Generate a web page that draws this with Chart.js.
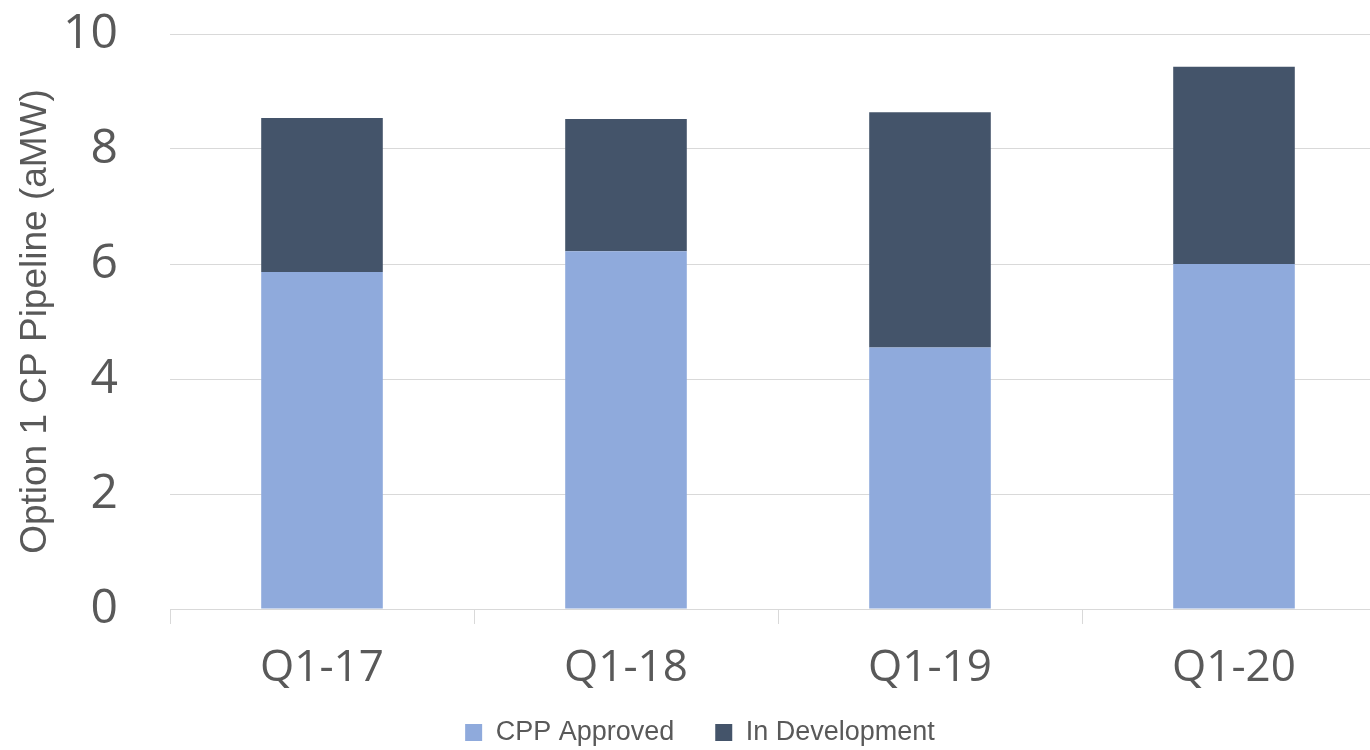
<!DOCTYPE html>
<html><head><meta charset="utf-8">
<script src="https://cdn.jsdelivr.net/npm/chart.js@4"></script>
<style>
html,body{margin:0;padding:0;background:#fff;overflow:hidden;}
#wrap{width:1400px;height:756px;position:relative;}
</style></head>
<body>
<div id="wrap"><canvas id="c"></canvas></div>
<script>
const categories = ["Q1-17", "Q1-18", "Q1-19", "Q1-20"];
const cppApproved = [5.86, 6.22, 4.55, 6.0];
const inDevelopment = [2.68, 2.30, 4.09, 3.43];
const yTicks = [0, 2, 4, 6, 8, 10];

const textColor = '#595959';
new Chart(document.getElementById('c'), {
  type: 'bar',
  data: {
    labels: categories,
    datasets: [
      {label: 'CPP Approved', data: cppApproved, backgroundColor: '#8FAADC', barPercentage: 0.4, categoryPercentage: 1},
      {label: 'In Development', data: inDevelopment, backgroundColor: '#44546A', barPercentage: 0.4, categoryPercentage: 1}
    ]
  },
  options: {
    responsive: true,
    maintainAspectRatio: false,
    animation: false,
    layout: {autoPadding: false, padding: {top: 34, right: 14, bottom: 0, left: 14}},
    plugins: {
      legend: {
        position: 'bottom',
        labels: {
          font: {family: '"Liberation Sans"', size: 27},
          color: textColor, boxWidth: 17, boxHeight: 17, padding: 41, useBorderRadius: false
        }
      },
      tooltip: {enabled: false}
    },
    scales: {
      x: {
        stacked: true,
        grid: {drawOnChartArea: false, drawTicks: true, tickLength: 15, color: '#d9d9d9', offset: true},
        border: {display: true, color: '#d9d9d9'},
        ticks: {font: {family: '"Open Sans"', size: 44}, color: textColor, padding: 18, maxRotation: 0},
        afterFit: (axis) => {
          axis.height = 69; axis.paddingLeft = 0; axis.paddingRight = 0; axis.paddingTop = 0; axis.paddingBottom = 0;
          axis._computeLabelArea = () => undefined;
        }
      },
      y: {
        stacked: true,
        min: 0, max: 10,
        afterBuildTicks: (axis) => { axis.ticks = yTicks.map(v => ({value: v})); },
        grid: {color: '#d9d9d9', drawTicks: false},
        border: {display: false},
        ticks: {font: {family: '"Open Sans"', size: 48}, color: textColor, padding: 52},
        title: {display: true, text: 'Option 1 CP Pipeline (aMW)', color: textColor,
          font: {family: '"Liberation Sans"', size: 37}, padding: {top: 0, bottom: 0}},
        afterFit: (axis) => { axis.width = 156; axis.paddingTop = 0; axis.paddingBottom = 0; axis.paddingLeft = 0; axis.paddingRight = 0; }
      }
    }
  }
});
</script>
</body></html>
